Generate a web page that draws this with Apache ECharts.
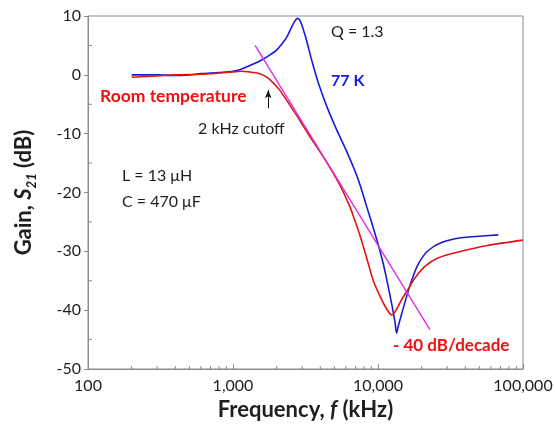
<!DOCTYPE html>
<html>
<head>
<meta charset="utf-8">
<script src="https://cdn.jsdelivr.net/npm/echarts@6/dist/echarts.min.js"></script>
<style>html,body{margin:0;padding:0;background:#fff;}#c{width:556px;height:426px;}</style>
</head>
<body>
<div id="c"></div>
<script>
// ---- data (frequency in kHz, gain in dB) ----
var blueFreq = [200, 300, 400, 500, 600, 800, 1000, 1150, 1310, 1460, 1620, 1800, 2000, 2180, 2350, 2500, 2610, 2700, 2776, 2870, 2970, 3100, 3220, 3480, 3870, 4440, 5200, 6080, 6950, 7510, 8360, 9800, 10890, 12100, 13100, 13430, 13800, 14570, 15870, 17150, 18900, 22100, 27400, 37400, 52200, 67600];
var blueGain = [0.0, 0.0, -0.1, 0.0, 0.2, 0.4, 0.6, 1.0, 1.6, 2.1, 2.7, 3.4, 4.2, 5.3, 6.4, 7.8, 8.7, 9.3, 9.6, 9.4, 8.6, 7.2, 5.8, 2.6, -1.3, -5.4, -9.4, -13.0, -16.4, -18.7, -22.4, -28.0, -32.2, -37.5, -42.0, -43.9, -42.7, -40.6, -37.4, -34.8, -32.2, -29.9, -28.5, -27.7, -27.4, -27.2];

var redFreq = [200, 300, 400, 600, 800, 1000, 1120, 1300, 1530, 1710, 1900, 2100, 2600, 2900, 3390, 4440, 5450, 6400, 6800, 7510, 8510, 9280, 10320, 11480, 12420, 13100, 13800, 14570, 16180, 17900, 20980, 26100, 37400, 57000, 100000];
var redGain = [-0.4, -0.2, 0.0, 0.1, 0.3, 0.5, 0.6, 0.5, 0.2, -0.4, -1.4, -2.6, -6.0, -7.8, -10.5, -14.9, -18.7, -22.4, -24.2, -27.3, -31.8, -35.0, -37.6, -39.8, -40.8, -40.3, -39.3, -38.2, -36.4, -34.6, -32.6, -31.1, -30.0, -29.0, -28.1];

var slopeFreq = [1420, 22800];
var slopeGain = [5.0, -43.3];

var cutoffFreq = 1750;
var cutoffArrowGain = [-5.7, -2.6];

var xTickValues = [100, 1000, 10000, 100000];
var xMinorTicks = [200, 300, 400, 500, 600, 700, 800, 900, 2000, 3000, 4000, 5000, 6000, 7000, 8000, 9000, 20000, 30000, 40000, 50000, 60000, 70000, 80000, 90000];
var yMinorTicks = [-45, -35, -25, -15, -5, 5];
var yMin = -50, yMax = 10, yStep = 10;
var xMin = 100, xMax = 100000;

// ---- chart ----
var FONT = 'Lato';
var AXIS = '#8c8c8c';
var TXT = '#1e1e1e';

function pairs(xs, ys) { return xs.map(function (x, i) { return [x, ys[i]]; }); }

var chart = echarts.init(document.getElementById('c'), null, {renderer: 'canvas'});

var option = {
  animation: false,
  backgroundColor: '#fff',
  grid: {left: 88, right: 33, top: 16, bottom: 57, show: true, borderColor: AXIS, borderWidth: 1},
  xAxis: {
    type: 'log', logBase: 10, min: xMin, max: xMax,
    name: '{b|Frequency, }{bi|f}{b| (kHz)}',
    nameLocation: 'middle', nameGap: 24,
    nameTextStyle: {rich: {
      b: {fontFamily: FONT, fontWeight: 'bold', fontSize: 22, color: TXT},
      bi: {fontFamily: FONT, fontWeight: 'bold', fontStyle: 'italic', fontSize: 22, color: TXT}
    }},
    axisLine: {onZero: false, lineStyle: {color: AXIS, width: 1}},
    axisTick: {inside: true, length: 5, lineStyle: {color: AXIS}},
    splitLine: {show: false},
    axisLabel: {
      fontFamily: FONT, fontSize: 16, color: TXT, margin: 9,
      formatter: function (v) { return xTickValues.indexOf(Math.round(v)) >= 0 ? Math.round(v).toLocaleString('en-US') : ''; }
    }
  },
  yAxis: {
    type: 'value', min: yMin, max: yMax, interval: yStep,
    name: '{b|Gain, }{i|S}{s|21}{b| (dB)}',
    nameLocation: 'middle', nameGap: 50, nameRotate: 90,
    nameTextStyle: {rich: {
      b: {fontFamily: FONT, fontWeight: 'bold', fontSize: 22, lineHeight: 28, color: TXT},
      i: {fontFamily: FONT, fontWeight: 'bold', fontStyle: 'italic', fontSize: 22, lineHeight: 28, color: TXT},
      s: {fontFamily: FONT, fontWeight: 'bold', fontStyle: 'italic', fontSize: 13, lineHeight: 13, verticalAlign: 'bottom', color: TXT}
    }},
    axisLine: {show: true, onZero: false, lineStyle: {color: AXIS, width: 1}},
    axisTick: {show: true, inside: false, length: 4, lineStyle: {color: AXIS}},
    splitLine: {show: false},
    axisLabel: {fontFamily: FONT, fontSize: 16, color: TXT, margin: 7}
  },
  series: [
    {
      type: 'line', name: '77 K', data: pairs(blueFreq, blueGain),
      showSymbol: false, symbol: 'none', smooth: 0.3,
      lineStyle: {color: '#1a1ad6', width: 1.6}, z: 3
    },
    {
      type: 'line', name: 'Room temperature', data: pairs(redFreq, redGain),
      showSymbol: false, symbol: 'none', smooth: 0.3,
      lineStyle: {color: '#e01414', width: 1.6}, z: 4
    },
    {
      type: 'line', name: 'slope', data: pairs(slopeFreq, slopeGain),
      showSymbol: false, symbol: 'none',
      lineStyle: {color: '#de2ede', width: 1.4}, z: 5,
      markLine: {
        silent: true, symbol: ['none', 'arrow'], symbolSize: [5, 8],
        label: {show: false},
        lineStyle: {color: '#111', width: 1, type: 'solid'},
        data: [[{coord: [cutoffFreq, cutoffArrowGain[0]]}, {coord: [cutoffFreq, cutoffArrowGain[1]]}]]
      }
    },
    {
      type: 'custom', name: 'xminor', silent: true, clip: false, z: 6,
      data: xMinorTicks.map(function (v) { return [v, yMin]; }),
      renderItem: function (params, api) {
        var p = api.coord([api.value(0), api.value(1)]);
        return {type: 'line', shape: {x1: p[0], y1: p[1], x2: p[0], y2: p[1] - 3}, style: {stroke: AXIS, lineWidth: 1}};
      }
    },
    {
      type: 'custom', name: 'yminor', silent: true, clip: false, z: 6,
      data: yMinorTicks.map(function (v) { return [xMin, v]; }),
      renderItem: function (params, api) {
        var p = api.coord([api.value(0), api.value(1)]);
        return {type: 'line', shape: {x1: p[0], y1: p[1], x2: p[0] + 4, y2: p[1]}, style: {stroke: AXIS, lineWidth: 1}};
      }
    }
  ],
  graphic: [
    {type: 'text', left: 331, top: 24, style: {text: 'Q = 1.3', font: '16px ' + FONT, fill: TXT}},
    {type: 'text', left: 331, top: 73, style: {text: '77 K', font: 'bold 16px ' + FONT, fill: '#1a1ae6'}},
    {type: 'text', left: 100, top: 87, style: {text: 'Room temperature', font: 'bold 17.5px ' + FONT, fill: '#ee1111'}},
    {type: 'text', left: 198, top: 121, style: {text: '2 kHz cutoff', font: '16px ' + FONT, fill: TXT}},
    {type: 'text', left: 122, top: 168, style: {text: 'L = 13 \u03bcH', font: '16px ' + FONT, fill: TXT}},
    {type: 'text', left: 122, top: 194, style: {text: 'C = 470 \u03bcF', font: '16px ' + FONT, fill: TXT}},
    {type: 'text', left: 393, top: 337, style: {text: '- 40 dB/decade', font: 'bold 17px ' + FONT, fill: '#ee1111'}}
  ]
};
chart.setOption(option);
</script>
</body>
</html>
